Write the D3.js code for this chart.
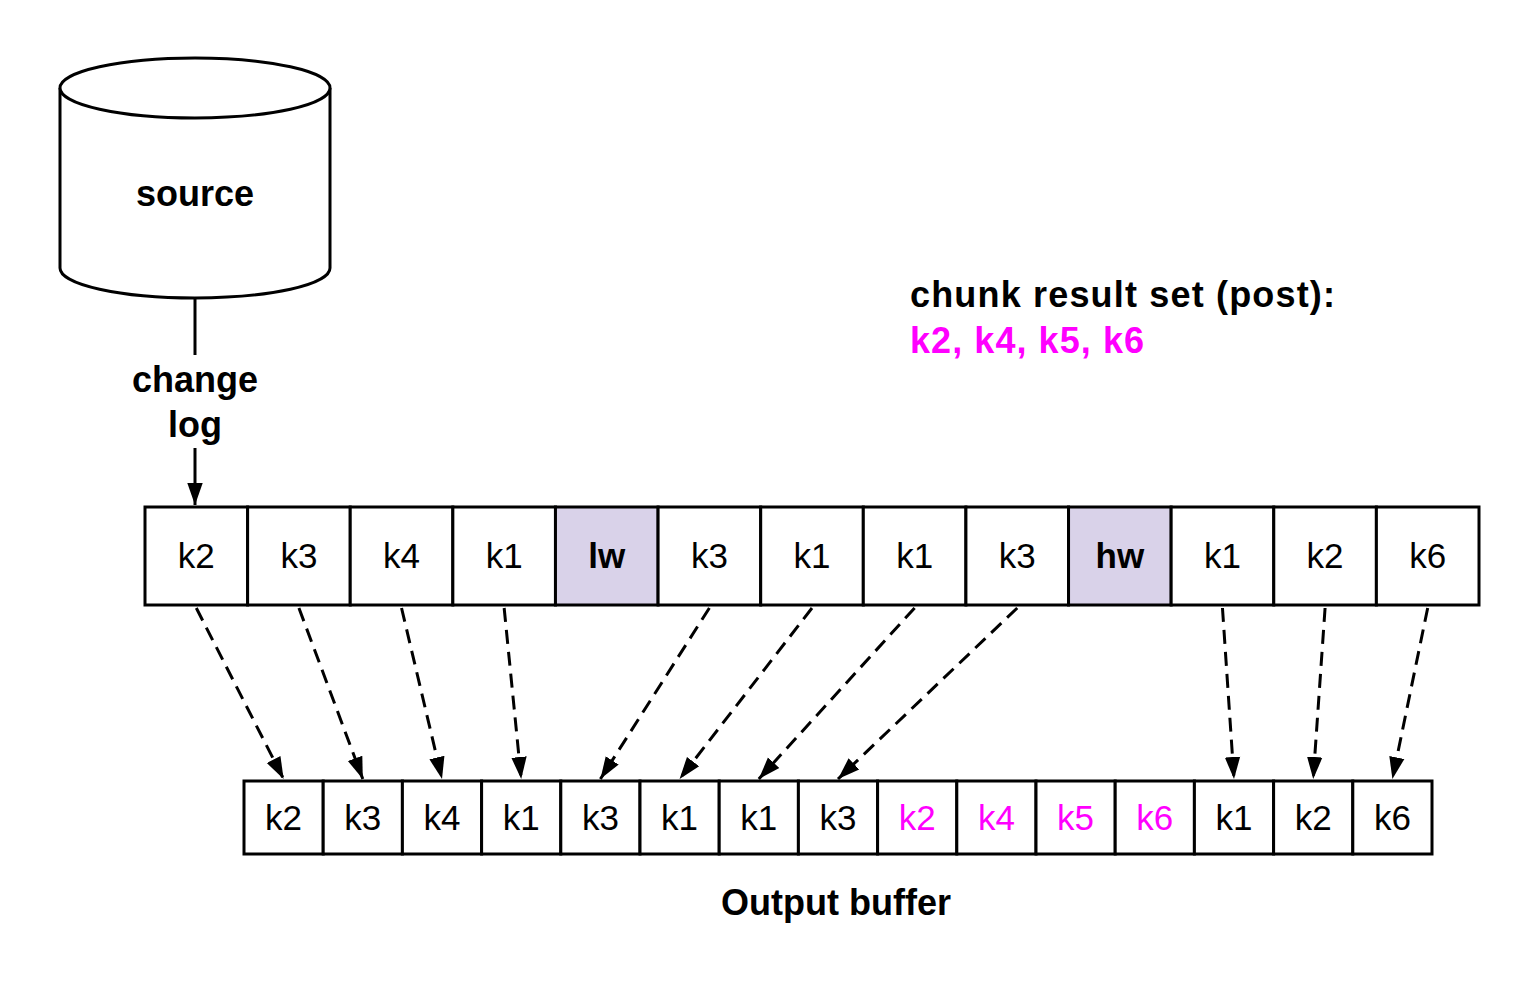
<!DOCTYPE html>
<html><head><meta charset="utf-8">
<script src="https://d3js.org/d3.v7.min.js"></script>
<style>body{margin:0;background:#fff}text{font-family:Arial,"Liberation Sans",sans-serif}</style>
</head><body>
<script>
// Data
const logKeys = ["k2","k3","k4","k1","lw","k3","k1","k1","k3","hw","k1","k2","k6"];
const markers = ["lw","hw"];
const bufferKeys = ["k2","k3","k4","k1","k3","k1","k1","k3","k2","k4","k5","k6","k1","k2","k6"];
const chunkKeys = ["k2","k4","k5","k6"];
const bufferFromChunk = [8,9,10,11];
// log cell index -> buffer cell index
const links = [[0,0],[1,1],[2,2],[3,3],[5,4],[6,5],[7,6],[8,7],[10,12],[11,13],[12,14]];

const W = 1540, H = 986;
const svg = d3.select("body").append("svg").attr("width", W).attr("height", H);

const defs = svg.append("defs");
defs.append("marker").attr("id","ah").attr("viewBox","0 0 10 10").attr("refX",10).attr("refY",5)
  .attr("orient","auto-start-reverse")
  .attr("markerUnits","userSpaceOnUse").attr("markerWidth",22).attr("markerHeight",22)
  .append("path").attr("d","M0,1.5 L10,5 L0,8.5 z").attr("fill","#000");

// Scales
const xTop = d3.scaleBand().domain(d3.range(logKeys.length)).range([145, 1479]);
const xBot = d3.scaleBand().domain(d3.range(bufferKeys.length)).range([244, 1432]);
const topY = 507, topH = 98, botY = 781, botH = 73;
const bold = 36, normal = 35;

// Cylinder
const cx = 195, rx = 135, ry = 30, cyTop = 88, cyBot = 268;
svg.append("path")
  .attr("d", `M${cx-rx},${cyTop} L${cx-rx},${cyBot} A${rx},${ry} 0 0 0 ${cx+rx},${cyBot} L${cx+rx},${cyTop}`)
  .attr("fill","#fff").attr("stroke","#000").attr("stroke-width",3);
svg.append("ellipse").attr("cx",cx).attr("cy",cyTop).attr("rx",rx).attr("ry",ry)
  .attr("fill","#fff").attr("stroke","#000").attr("stroke-width",3);
svg.append("text").attr("x",cx).attr("y",206).attr("text-anchor","middle")
  .attr("font-size",bold).attr("font-weight","bold").text("source");

svg.append("line").attr("x1",cx).attr("y1",cyBot+ry).attr("x2",cx).attr("y2",355)
  .attr("stroke","#000").attr("stroke-width",3);
svg.append("text").attr("x",cx).attr("y",392).attr("text-anchor","middle")
  .attr("font-size",bold).attr("font-weight","bold").text("change");
svg.append("text").attr("x",cx).attr("y",437).attr("text-anchor","middle")
  .attr("font-size",bold).attr("font-weight","bold").text("log");
svg.append("line").attr("x1",cx).attr("y1",448).attr("x2",cx).attr("y2",505)
  .attr("stroke","#000").attr("stroke-width",3).attr("marker-end","url(#ah)");

// Chunk label
svg.append("text").attr("x",910).attr("y",307).attr("font-size",bold).attr("font-weight","bold")
  .attr("textLength",425).text("chunk result set (post):");
svg.append("text").attr("x",910).attr("y",353).attr("font-size",bold).attr("font-weight","bold")
  .attr("fill","#ff00ff").attr("textLength",234).text(chunkKeys.join(", "));

// Top row
const tg = svg.append("g").selectAll("g").data(logKeys).join("g");
tg.append("rect").attr("x",(d,i)=>xTop(i)).attr("y",topY).attr("width",xTop.bandwidth()).attr("height",topH)
  .attr("fill",d=>markers.includes(d)?"#d9d2e9":"#fff").attr("stroke","#000").attr("stroke-width",3);
tg.append("text").attr("x",(d,i)=>xTop(i)+xTop.bandwidth()/2).attr("y",topY+topH/2+12)
  .attr("text-anchor","middle").attr("font-size",normal)
  .attr("font-weight",d=>markers.includes(d)?"bold":"normal").text(d=>d);

// Bottom row
const bg = svg.append("g").selectAll("g").data(bufferKeys).join("g");
bg.append("rect").attr("x",(d,i)=>xBot(i)).attr("y",botY).attr("width",xBot.bandwidth()).attr("height",botH)
  .attr("fill","#fff").attr("stroke","#000").attr("stroke-width",3);
bg.append("text").attr("x",(d,i)=>xBot(i)+xBot.bandwidth()/2).attr("y",botY+botH/2+12)
  .attr("text-anchor","middle").attr("font-size",normal)
  .attr("fill",(d,i)=>bufferFromChunk.includes(i)?"#ff00ff":"#000").text(d=>d);
svg.append("text").attr("x",836).attr("y",915).attr("text-anchor","middle")
  .attr("font-size",bold).attr("font-weight","bold").text("Output buffer");

// Dashed arrows
svg.append("g").selectAll("line").data(links).join("line")
  .attr("x1",d=>xTop(d[0])+xTop.bandwidth()/2).attr("y1",topY+topH+3)
  .attr("x2",d=>xBot(d[1])+xBot.bandwidth()/2).attr("y2",botY-2)
  .attr("stroke","#000").attr("stroke-width",3).attr("stroke-dasharray","14,8")
  .attr("marker-end","url(#ah)");
</script>
</body></html>
